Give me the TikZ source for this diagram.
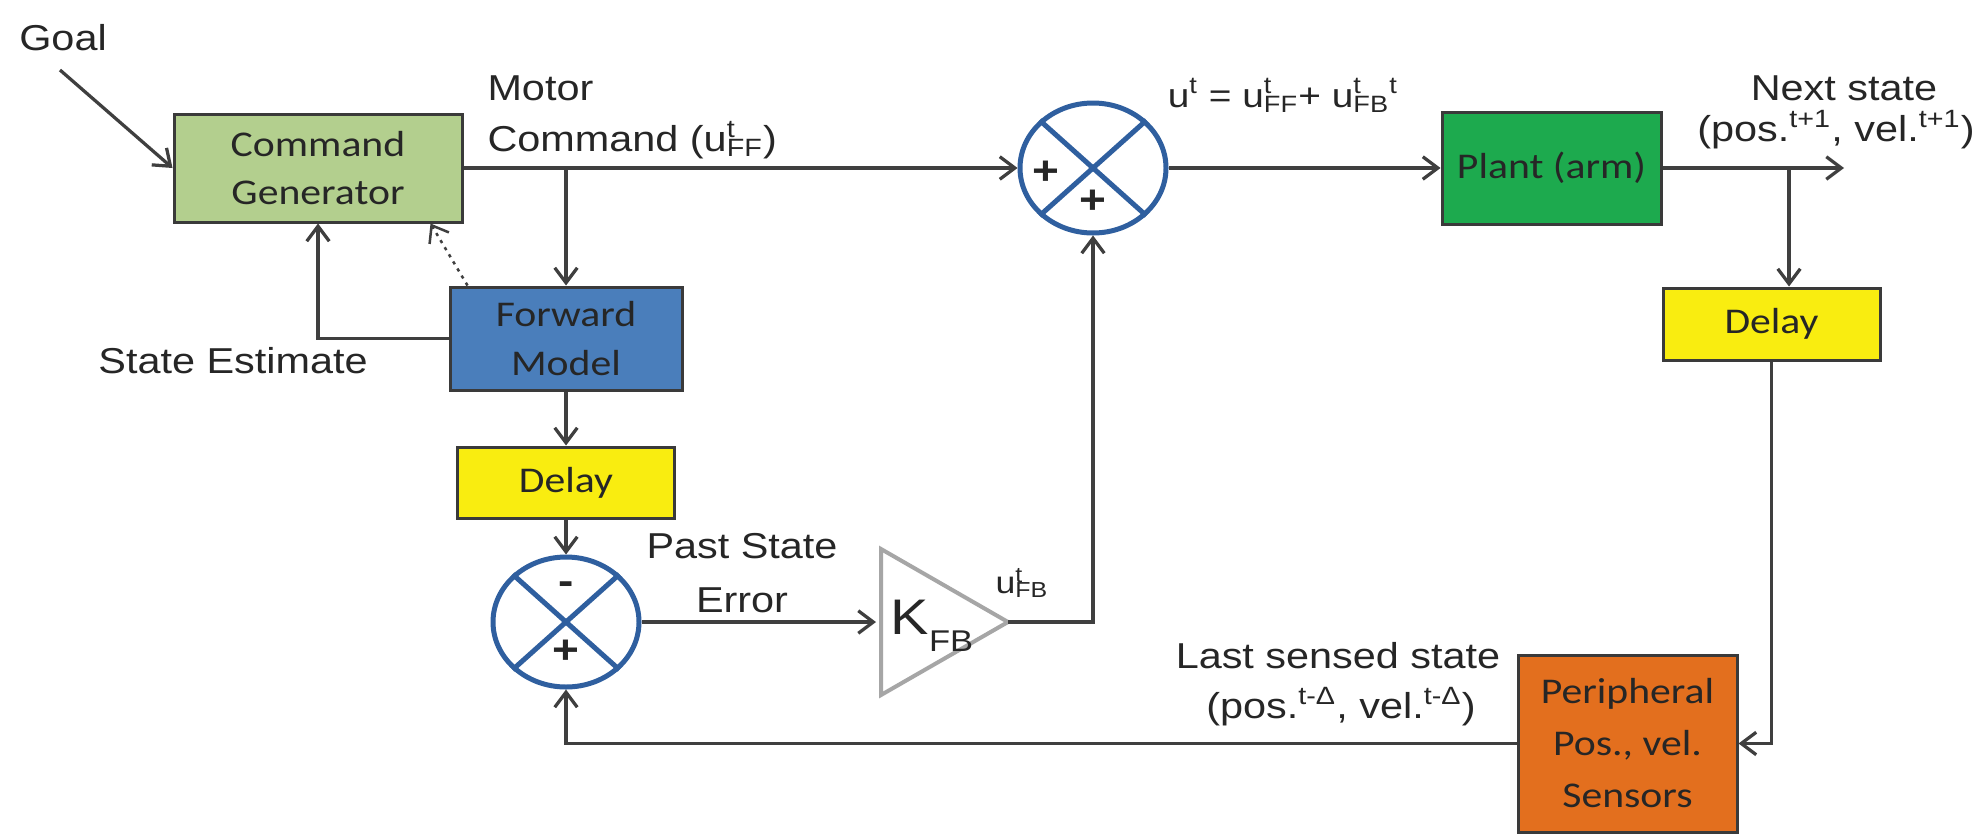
\documentclass[tikz,border=0pt]{standalone}
\usepackage{fontspec}
\setmainfont{Liberation Sans}[FakeStretch=1.15]
\newfontfamily\boxfont{Carlito}[FakeStretch=1.15]
\usetikzlibrary{arrows.meta,shapes.geometric}
\newdimen\px \px=0.4pt
\newcommand\ust[2]{u\rlap{\textsuperscript{#1}}\textsubscript{#2}}
\definecolor{linec}{HTML}{3F3F3F}
\definecolor{boxline}{HTML}{3A3A3A}
\definecolor{cgfill}{HTML}{B3CF8E}
\definecolor{fmfill}{HTML}{4A7EBB}
\definecolor{dlfill}{HTML}{F9ED10}
\definecolor{plfill}{HTML}{1DAA4E}
\definecolor{pefill}{HTML}{E36F1E}
\definecolor{circc}{HTML}{2F5F9F}
\definecolor{trig}{HTML}{A6A6A6}
\begin{document}
\begin{tikzpicture}[x=0.4pt,y=-0.4pt,
  lbl/.style={font=\fontsize{14.4}{21}\selectfont, inner sep=0, text=black!85},
  blk/.style={draw=boxline, line width=1.2pt, font=\boxfont\fontsize{14.5}{19.5}\selectfont,
    align=center, inner sep=0, text=black!85},
  conn/.style={draw=linec, line width=1.3pt, -{Straight Barb[length=6pt,width=9pt]}},
  sumj/.style={ellipse, draw=circc, line width=2pt, minimum width=146\px, minimum height=130\px, inner sep=0},
  sgn/.style={font=\bfseries\fontsize{16}{16}\selectfont, inner sep=0, text=black!85}]
\useasboundingbox[fill=white] (0,0) rectangle (1986,834);

% blocks
\node[blk, fill=cgfill, minimum width=288\px, minimum height=108\px] (CG) at (318,168) {Command\\Generator};
\node[blk, fill=fmfill, minimum width=232\px, minimum height=103\px] (FM) at (566,338.5) {Forward\\Model};
\node[blk, fill=dlfill, minimum width=217\px, minimum height=71\px] (D1) at (566,482.5) {Delay};
\node[blk, fill=plfill, minimum width=219\px, minimum height=112\px] (Plant) at (1551.5,168) {Plant (arm)};
\node[blk, fill=dlfill, minimum width=217\px, minimum height=72\px] (D2) at (1771.5,324) {Delay};
\node[blk, fill=pefill, minimum width=219\px, minimum height=177\px, font=\boxfont\fontsize{14.5}{20.8}\selectfont] (Per) at (1627.5,743.5) {Peripheral\\Pos., vel.\\Sensors};

% summing junctions
\node[sumj] (sum) at (1093,168) {};
\draw[circc, line width=2pt] (sum.north east) -- (sum.south west) (sum.north west) -- (sum.south east);
\node[sgn] (sumpa) at (1046,173) {+};
\node[sgn] (sumpb) at (1093,202) {+};
\node[sumj] (sub) at (566,622) {};
\draw[circc, line width=2pt] (sub.north east) -- (sub.south west) (sub.north west) -- (sub.south east);
\node[sgn] (subm) at (566,588) {-};
\node[sgn] (subp) at (566,652) {+};

% gain triangle
\coordinate (kin) at (881,622);
\coordinate (kout) at (1008,622);
\draw[trig, line width=1.6pt, fill=white, line join=miter] (881,549) -- (kout) -- (881,695) -- cycle;
\node[inner sep=0, text=black!85] (K) at (932,626) {\fontsize{20}{20}\selectfont K\fontsize{12}{12}\selectfont\raisebox{-0.55em}{FB}};

% labels
\node[lbl, anchor=base] (goal) at (63,50) {Goal};
\node[lbl, anchor=base west] (mot1) at (487,100) {Motor};
\node[lbl, anchor=base west] (mot2) at (487,151) {Command (\ust{t}{FF})};
\node[lbl, anchor=base] (stest) at (233,373) {State Estimate};
\node[lbl, anchor=base] (pse1) at (742,558) {Past State};
\node[lbl, anchor=base] (pse2) at (742,612) {Error};
\node[lbl, anchor=base west, font=\fontsize{12.4}{14}\selectfont] (ufb) at (995,593) {\ust{t}{FB}};
\node[lbl, anchor=base, font=\fontsize{13.5}{16}\selectfont] (ueq) at (1283,107) {u\textsuperscript{t} = \ust{t}{FF}+ \ust{t}{FB}\textsuperscript{t}};
\node[lbl, anchor=base] (ns1) at (1844,100) {Next state};
\node[lbl, anchor=base] (ns2) at (1836,141) {(pos.\textsuperscript{t+1}, vel.\textsuperscript{t+1})};
\node[lbl, anchor=base] (ls1) at (1338,668) {Last sensed state};
\node[lbl, anchor=base] (ls2) at (1341,718) {(pos.\textsuperscript{t-Δ}, vel.\textsuperscript{t-Δ})};

% connectors
\coordinate (goalstart) at (60,70);
\draw[conn] (goalstart) -- (CG.west);
\draw[conn] (CG.east) -- (sum.west);
\draw[conn] (FM.north |- CG.east) -- (FM.north);
\draw[conn] (FM.west) -| (CG.south);
\draw[conn, dotted, line width=1pt] ([xshift=19\px]FM.north west) -- ([xshift=-33\px]CG.south east);
\draw[conn] (FM.south) -- (D1.north);
\draw[conn] (D1.south) -- (sub.north);
\draw[conn, shorten >=2pt] (sub.east) -- (kin);
\draw[conn] (kout) -| (sum.south);
\draw[conn] (sum.east) -- (Plant.west);
\coordinate (nsend) at (1844,168);
\draw[conn] (Plant.east) -- (nsend);
\coordinate (tap2) at (1789,168);
\draw[conn] (tap2) -- (tap2 |- D2.north);
\draw[conn] (D2.south) |- (Per.east);
\draw[conn] (Per.west) -| (sub.south);
\end{tikzpicture}
\end{document}
